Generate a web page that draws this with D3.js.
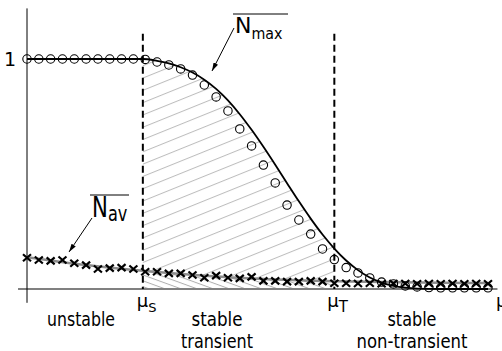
<!DOCTYPE html>
<html>
<head>
<meta charset="utf-8">
<script src="https://cdn.jsdelivr.net/npm/d3@7"></script>
<style>
  body { margin: 0; background: #fff; }
  svg text { font-family: "DejaVu Sans", sans-serif; fill: #000; }
</style>
</head>
<body>
<svg width="502" height="351"></svg>
<script>
var svg = d3.select("svg");

// simulated points, one per mu step
var muSteps = d3.range(0, 40);
var nmaxSim = [1, 1, 1, 1, 1, 1, 1, 1, 1, 1,
  0.998, 0.987, 0.974, 0.957, 0.930, 0.887, 0.835, 0.774, 0.696, 0.622,
  0.539, 0.461, 0.365, 0.300, 0.239, 0.174, 0.128, 0.093, 0.070, 0.048,
  0.030, 0.022, 0.013, 0.009, 0.006, 0.005, 0.005, 0.005, 0.005, 0.005];
var navSim = [0.136, 0.126, 0.122, 0.126, 0.112, 0.104, 0.087, 0.091, 0.093, 0.087,
  0.075, 0.075, 0.068, 0.068, 0.061, 0.049, 0.058, 0.049, 0.046, 0.053,
  0.035, 0.035, 0.032, 0.032, 0.035, 0.032, 0.025, 0.025, 0.024, 0.025,
  0.023, 0.024, 0.024, 0.023, 0.024, 0.023, 0.024, 0.023, 0.024, 0.023];

// theoretical N_max curve
var curveMu  = [0, 9.8, 11, 12, 13, 14, 15, 16, 17, 18, 19, 20, 21, 22, 23, 24, 25, 26, 27, 28, 29, 30, 31, 32, 33, 35, 39];
var curveVal = [1, 1, 0.992, 0.981, 0.964, 0.941, 0.910, 0.870, 0.820, 0.760, 0.692, 0.618, 0.540, 0.460, 0.381, 0.306, 0.237, 0.176, 0.124, 0.082, 0.050, 0.028, 0.014, 0.006, 0.002, 0, 0];

// fitted N_av line
var fitMu  = [0, 5, 10, 15, 20, 25, 30, 35, 39];
var fitVal = [0.138, 0.104, 0.078, 0.058, 0.044, 0.035, 0.030, 0.027, 0.026];

var muS = 9.8, muT = 26;

var x = d3.scaleLinear().domain([0, 39]).range([27, 488]);
var y = d3.scaleLinear().domain([0, 1]).range([289, 59]);

var defs = svg.append("defs");
defs.append("pattern")
    .attr("id", "hatchUp")
    .attr("patternUnits", "userSpaceOnUse")
    .attr("width", 20).attr("height", 11.4)
    .attr("patternTransform", "rotate(-22)")
  .append("line")
    .attr("x1", 0).attr("y1", 0.5).attr("x2", 20).attr("y2", 0.5)
    .attr("stroke", "#bdbdbd").attr("stroke-width", 1);
defs.append("pattern")
    .attr("id", "hatchDown")
    .attr("patternUnits", "userSpaceOnUse")
    .attr("width", 20).attr("height", 5.5)
    .attr("patternTransform", "rotate(20)")
  .append("line")
    .attr("x1", 0).attr("y1", 0.5).attr("x2", 20).attr("y2", 0.5)
    .attr("stroke", "#b0b0b0").attr("stroke-width", 1);
defs.append("clipPath").attr("id", "band")
  .append("rect")
    .attr("x", x(muS)).attr("y", 0)
    .attr("width", x(muT) - x(muS)).attr("height", y(0));
defs.append("marker")
    .attr("id", "arrow")
    .attr("viewBox", "0 0 10 6")
    .attr("refX", 10).attr("refY", 3)
    .attr("markerWidth", 9).attr("markerHeight", 5)
    .attr("markerUnits", "userSpaceOnUse")
    .attr("orient", "auto")
  .append("path")
    .attr("d", "M0,0L10,3L0,6z")
    .attr("fill", "#000");

var curvePts = curveMu.map(function(m, i) { return [m, curveVal[i]]; });
var fitPts = fitMu.map(function(m, i) { return [m, fitVal[i]]; });

function areaUnder() {
  return d3.area().x(function(d) { return x(d[0]); }).y0(y(0)).y1(function(d) { return y(d[1]); }).curve(d3.curveMonotoneX);
}
var line = d3.line().x(function(d) { return x(d[0]); }).y(function(d) { return y(d[1]); }).curve(d3.curveMonotoneX);

// hatched region between mu_S and mu_T
var hatch = svg.append("g").attr("clip-path", "url(#band)");
hatch.append("path").datum(curvePts).attr("fill", "url(#hatchUp)").attr("d", areaUnder());
hatch.append("path").datum(fitPts).attr("fill", "#fff").attr("d", areaUnder());
hatch.append("path").datum(fitPts).attr("fill", "url(#hatchDown)").attr("d", areaUnder());

// axes
svg.append("line")
    .attr("x1", x(-0.76)).attr("x2", x(39.8))
    .attr("y1", y(0)).attr("y2", y(0))
    .attr("stroke", "#808080").attr("stroke-width", 2);
svg.append("line")
    .attr("x1", x(0)).attr("x2", x(0))
    .attr("y1", y(1.22)).attr("y2", y(-0.06))
    .attr("stroke", "#000").attr("stroke-width", 1);

var yAxis = svg.append("g")
    .attr("transform", "translate(" + x(0) + ",0)")
    .call(d3.axisLeft(y).tickValues([1]).tickFormat(d3.format("d")).tickSize(0).tickPadding(11));
yAxis.select(".domain").remove();
yAxis.selectAll("text")
    .attr("font-size", 19)
    .attr("dy", "0.36em")
    .style("font-family", "'DejaVu Sans', sans-serif");

// dashed thresholds
svg.selectAll(".thresh")
    .data([muS, muT])
    .enter().append("line")
    .attr("class", "thresh")
    .attr("x1", function(d) { return x(d); }).attr("x2", function(d) { return x(d); })
    .attr("y1", y(1.11)).attr("y2", y(0))
    .attr("stroke", "#000").attr("stroke-width", 2)
    .attr("stroke-dasharray", "7,4");

// fitted N_av
svg.append("path")
    .datum(fitPts)
    .attr("fill", "none")
    .attr("stroke", "#8c8c8c").attr("stroke-width", 2.5)
    .attr("d", line);

// N_av crosses
svg.append("g").selectAll("path")
    .data(muSteps)
    .enter().append("path")
    .attr("transform", function(d, i) { return "translate(" + x(d) + "," + y(navSim[i]) + ")"; })
    .attr("d", "M-4,-3.5L4,3.5M-4,3.5L4,-3.5")
    .attr("stroke", "#000").attr("stroke-width", 2.2).attr("fill", "none");

// N_max circles
svg.append("g").selectAll("circle")
    .data(muSteps)
    .enter().append("circle")
    .attr("cx", function(d) { return x(d); })
    .attr("cy", function(d, i) { return y(nmaxSim[i]); })
    .attr("r", 4.2)
    .attr("fill", "none").attr("stroke", "#000").attr("stroke-width", 1.1);

// theoretical N_max
svg.append("path")
    .datum(curvePts)
    .attr("fill", "none")
    .attr("stroke", "#000").attr("stroke-width", 1.8)
    .attr("d", line);

// labels N_max and N_av with overbars
var nmax = svg.append("text").attr("x", 235).attr("y", 33);
nmax.append("tspan").attr("font-size", 22).text("N");
nmax.append("tspan").attr("font-size", 16).attr("dy", 6)
    .attr("textLength", 31).attr("lengthAdjust", "spacingAndGlyphs").text("max");
svg.append("line").attr("x1", 233).attr("x2", 288).attr("y1", 14).attr("y2", 14)
    .attr("stroke", "#000").attr("stroke-width", 1);
svg.append("line").attr("x1", 234).attr("y1", 28).attr("x2", 212).attr("y2", 71)
    .attr("stroke", "#000").attr("stroke-width", 1).attr("marker-end", "url(#arrow)");

var nav = svg.append("g").attr("transform", "translate(92,217) scale(0.85,1.1)");
var navText = nav.append("text").attr("x", 0).attr("y", 0);
navText.append("tspan").attr("font-size", 25).text("N");
navText.append("tspan").attr("font-size", 19).attr("dy", 4).text("av");
svg.append("line").attr("x1", 90).attr("x2", 129).attr("y1", 195).attr("y2", 195)
    .attr("stroke", "#000").attr("stroke-width", 1);
svg.append("line").attr("x1", 92).attr("y1", 218).attr("x2", 69).attr("y2", 252)
    .attr("stroke", "#000").attr("stroke-width", 1).attr("marker-end", "url(#arrow)");

// mu labels
function muLabel(xPos, sub, subSize) {
  var t = svg.append("text").attr("x", xPos).attr("y", 307);
  t.append("tspan").attr("font-size", 18).text("μ");
  if (sub) t.append("tspan").attr("font-size", subSize).attr("dy", 5).text(sub);
}
muLabel(x(muS) - 6, "S", 13);
muLabel(x(muT) - 7, "T", 15);
muLabel(496, null, 0);

// region labels
var regionLines = [
  { text: "unstable", cx: 81, row: 0, w: 68 },
  { text: "stable", cx: 217, row: 0, w: 51 },
  { text: "transient", cx: 217, row: 1, w: 72 },
  { text: "stable", cx: 412, row: 0, w: 49 },
  { text: "non-transient", cx: 412, row: 1, w: 111 }
];
svg.selectAll(".region")
    .data(regionLines)
    .enter().append("text")
    .attr("class", "region")
    .attr("x", function(d) { return d.cx; })
    .attr("y", function(d) { return 326 + d.row * 22; })
    .attr("text-anchor", "middle")
    .attr("font-size", 19)
    .attr("textLength", function(d) { return d.w; })
    .attr("lengthAdjust", "spacingAndGlyphs")
    .text(function(d) { return d.text; });
</script>
</body>
</html>
